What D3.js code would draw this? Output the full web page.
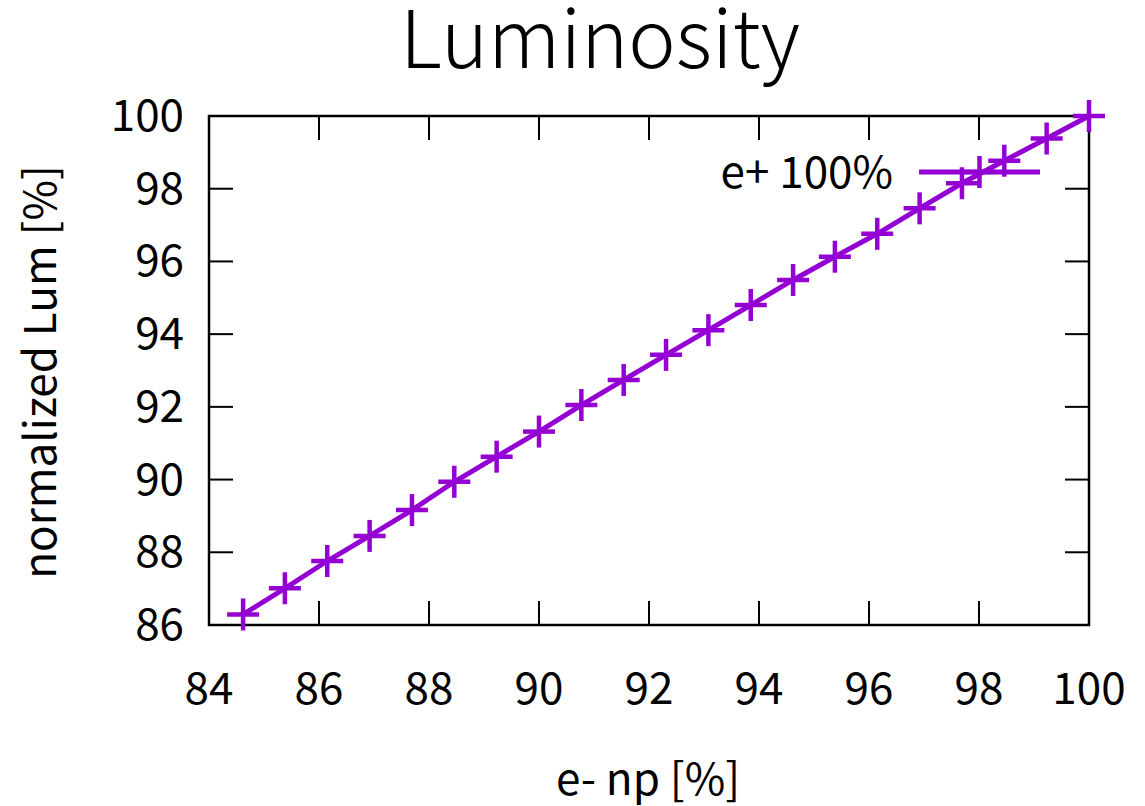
<!DOCTYPE html>
<html><head><meta charset="utf-8">
<script src="https://cdn.jsdelivr.net/npm/d3@7"></script>
<style>body{margin:0;background:#fff}svg{display:block}text{font-family:"Noto Sans CJK SC","Noto Sans",sans-serif;fill:#000}</style>
</head><body>
<script>
const title = "Luminosity";
const xLabel = "e- np [%]";
const yLabel = "normalized Lum [%]";
const seriesName = "e+ 100%";
const xValues = [84.62,85.38,86.15,86.92,87.69,88.46,89.23,90.00,90.77,91.54,92.31,93.08,93.85,94.62,95.38,96.15,96.92,97.69,98.46,99.23,100.0];
const yValues = [86.29,87.01,87.76,88.45,89.16,89.94,90.63,91.32,92.05,92.74,93.43,94.11,94.80,95.49,96.13,96.76,97.46,98.15,98.77,99.38,100.0];
const xTicks = [84,86,88,90,92,94,96,98,100];
const yTicks = [86,88,90,92,94,96,98,100];
const color = "#9400d3";

const W=1145,H=806;
const L=209,R=1089,T=116,B=625;
const svg=d3.select("body").append("svg").attr("width",W).attr("height",H);
const x=d3.scaleLinear().domain([84,100]).range([L,R]);
const y=d3.scaleLinear().domain([86,100]).range([B,T]);
const tl=24;
const fs=44;

// ticks (inward, mirrored)
const g=svg.append("g").attr("stroke","#000").attr("stroke-width",2);
xTicks.forEach(v=>{
  if(v>84&&v<100){
    g.append("line").attr("x1",x(v)).attr("x2",x(v)).attr("y1",B).attr("y2",B-tl);
    g.append("line").attr("x1",x(v)).attr("x2",x(v)).attr("y1",T).attr("y2",T+tl);
  }
});
yTicks.forEach(v=>{
  if(v>86&&v<100){
    g.append("line").attr("x1",L).attr("x2",L+tl).attr("y1",y(v)).attr("y2",y(v));
    g.append("line").attr("x1",R).attr("x2",R-tl).attr("y1",y(v)).attr("y2",y(v));
  }
});
svg.append("rect").attr("x",L).attr("y",T).attr("width",R-L).attr("height",B-T)
  .attr("fill","none").attr("stroke","#000").attr("stroke-width",2.5);

// tick labels
xTicks.forEach(v=>{
  svg.append("text").attr("x",x(v)).attr("y",704).attr("text-anchor","middle")
    .attr("font-size",fs).text(v);
});
yTicks.forEach(v=>{
  svg.append("text").attr("x",184).attr("y",y(v)+15).attr("text-anchor","end")
    .attr("font-size",fs).text(v);
});

// titles
svg.append("text").attr("x",600).attr("y",68).attr("text-anchor","middle")
  .attr("font-size",80).attr("font-weight",300).text(title);
svg.append("text").attr("x",648).attr("y",795).attr("text-anchor","middle")
  .attr("font-size",fs).text(xLabel);
svg.append("text").attr("transform","translate(56,372) rotate(-90)").attr("text-anchor","middle")
  .attr("font-size",fs).text(yLabel);

// data
const data=xValues.map((v,i)=>({x:v,y:yValues[i]}));
const line=d3.line().x(d=>x(d.x)).y(d=>y(d.y));
svg.append("path").datum(data).attr("d",line).attr("fill","none")
  .attr("stroke",color).attr("stroke-width",5);
const cs=16;
const pts=svg.append("g").attr("stroke",color).attr("stroke-width",4.5);
data.forEach(d=>{
  const cx=x(d.x),cy=y(d.y);
  pts.append("line").attr("x1",cx-cs).attr("x2",cx+cs).attr("y1",cy).attr("y2",cy);
  pts.append("line").attr("x1",cx).attr("x2",cx).attr("y1",cy-cs).attr("y2",cy+cs);
});

// legend
const ly=172;
svg.append("text").attr("x",893).attr("y",ly+16).attr("text-anchor","end")
  .attr("font-size",fs).text(seriesName);
svg.append("line").attr("x1",919).attr("x2",1040).attr("y1",ly).attr("y2",ly)
  .attr("stroke",color).attr("stroke-width",5);
const lg=svg.append("g").attr("stroke",color).attr("stroke-width",4.5);
lg.append("line").attr("x1",979.5-cs).attr("x2",979.5+cs).attr("y1",ly).attr("y2",ly);
lg.append("line").attr("x1",979.5).attr("x2",979.5).attr("y1",ly-cs).attr("y2",ly+cs);
</script>
</body></html>
